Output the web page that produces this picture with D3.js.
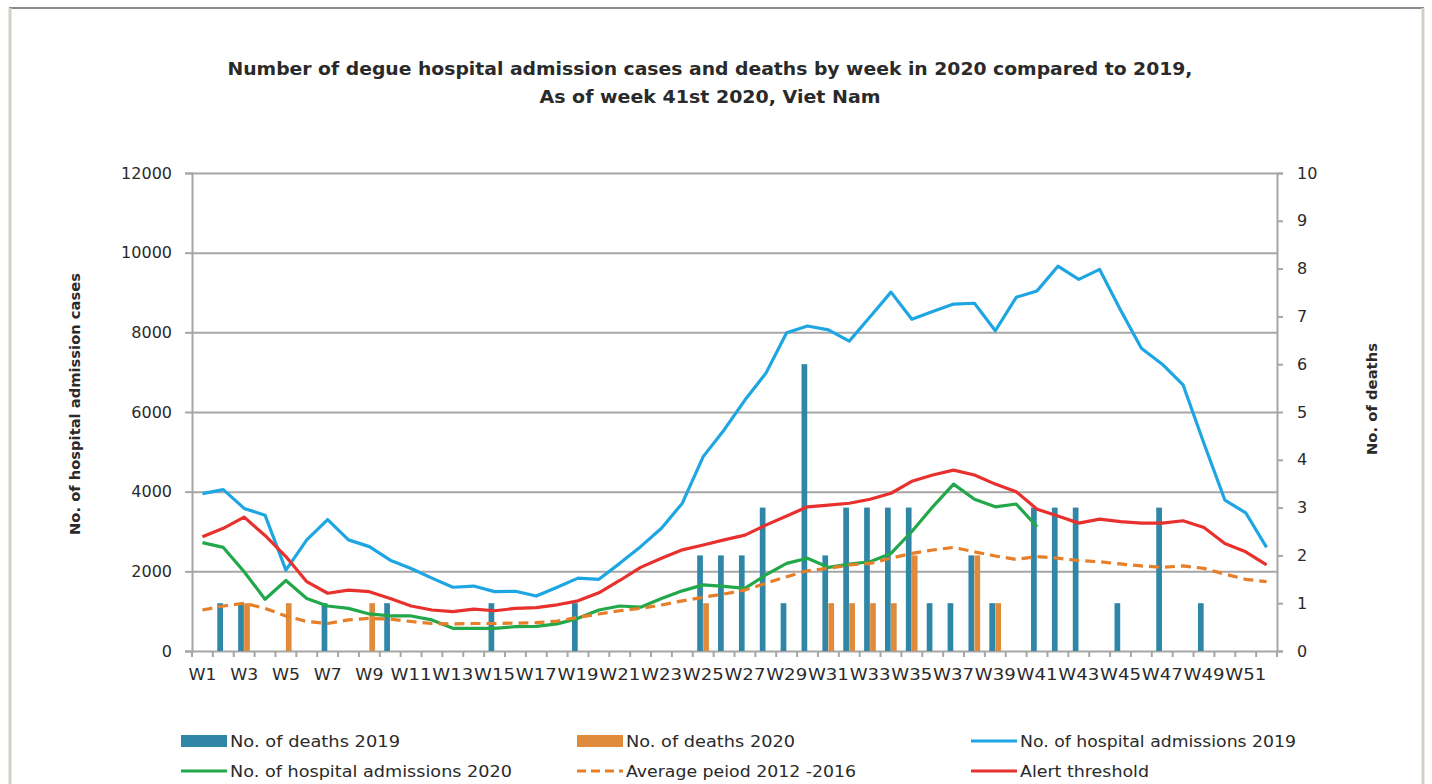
<!DOCTYPE html>
<html>
<head>
<meta charset="utf-8">
<script src="https://cdn.jsdelivr.net/npm/d3@7"></script>
<style>
  html, body { margin: 0; padding: 0; background: #ffffff; }
  svg { display: block; }
  text { font-family: "DejaVu Sans", "Open Sans", sans-serif; fill: #2a2a2a; }
</style>
</head>
<body>
<svg id="chart" width="1432" height="784"></svg>
<script>
// ---------------- data ----------------
const weeks = ["W1","W2","W3","W4","W5","W6","W7","W8","W9","W10","W11","W12","W13","W14","W15","W16","W17","W18","W19","W20",
  "W21","W22","W23","W24","W25","W26","W27","W28","W29","W30","W31","W32","W33","W34","W35","W36","W37","W38","W39","W40",
  "W41","W42","W43","W44","W45","W46","W47","W48","W49","W50","W51","W52"];

const deaths2019 = [0,1,1,0,0,0,1,0,0,1, 0,0,0,0,1,0,0,0,1,0, 0,0,0,0,2,2,2,3,1,6, 2,3,3,3,3,1,1,2,1,0, 3,3,3,0,1,0,3,0,1,0, 0,0];
const deaths2020 = [0,0,1,0,1,0,0,0,1,0, 0,0,0,0,0,0,0,0,0,0, 0,0,0,0,1,0,0,0,0,0, 1,1,1,1,2,0,0,2,1,0, 0];

const admissions2019 = [3950,4050,3580,3410,2030,2790,3300,2790,2620,2280, 2070,1830,1600,1630,1490,1500,1380,1600,1830,1800,
  2200,2620,3080,3710,4880,5550,6300,6970,7990,8160, 8060,7780,8390,9010,8330,8520,8710,8730,8040,8880,
  9040,9660,9330,9580,8560,7600,7200,6680,5210,3790, 3470,2600];
const admissions2020 = [2720,2600,1990,1300,1770,1320,1130,1070,930,880, 880,780,570,570,570,610,620,680,820,1030,
  1130,1100,1320,1510,1660,1620,1570,1910,2200,2330, 2100,2180,2240,2450,3000,3620,4190,3810,3620,3690, 3120];
const average2012_2016 = [1030,1130,1200,1070,880,740,690,780,820,800, 740,690,680,690,690,700,710,750,845,930,
  1010,1070,1155,1260,1350,1430,1530,1700,1865,2015, 2075,2160,2200,2330,2450,2535,2600,2490,2385,2300,
  2370,2330,2270,2240,2185,2135,2100,2135,2075,1930, 1800,1740];
const alertThreshold = [2870,3080,3360,2900,2370,1740,1450,1530,1490,1320, 1130,1030,990,1050,1010,1070,1090,1160,1260,1460,
  1770,2100,2330,2540,2660,2790,2910,3160,3390,3620, 3660,3710,3810,3960,4260,4420,4540,4420,4190,4000,
  3560,3390,3210,3310,3250,3210,3210,3270,3100,2700, 2490,2160];

const leftTicks = [0,2000,4000,6000,8000,10000,12000];
const rightTicks = [0,1,2,3,4,5,6,7,8,9,10];
const xLabels = weeks.filter((d,i) => i % 2 === 0);

const titleLines = ["Number of degue hospital admission cases and deaths by week in 2020 compared to 2019,",
                    "As of week 41st 2020, Viet Nam"];
const leftTitle = "No. of hospital admission cases";
const rightTitle = "No. of deaths";

const legendItems = [
  {label:"No. of deaths 2019", type:"bar", color:"#2f86a6"},
  {label:"No. of deaths 2020", type:"bar", color:"#e08a3c"},
  {label:"No. of hospital admissions 2019", type:"line", color:"#1ea6e3"},
  {label:"No. of hospital admissions 2020", type:"line", color:"#22a84a"},
  {label:"Average peiod 2012 -2016", type:"dash", color:"#e67e2a"},
  {label:"Alert threshold", type:"line", color:"#e8312e"}
];

// ---------------- layout ----------------
const svg = d3.select("#chart");
const L = 192, R = 1277, T = 173, B = 651;

const x = d3.scaleBand().domain(weeks).range([L, R]).padding(0);
const x1 = d3.scaleBand().domain(["2019","2020"]).range([-6, 6]).padding(0);
const yL = d3.scaleLinear().domain([0, 12000]).range([B, T]);
const yR = d3.scaleLinear().domain([0, 10]).range([B, T]);

// outer frame
svg.append("rect").attr("x",0).attr("y",0).attr("width",1432).attr("height",784).attr("fill","#ffffff");
svg.append("line").attr("x1",9).attr("x2",1424).attr("y1",8).attr("y2",8).attr("stroke","#8c8c8c").attr("stroke-width",2);
svg.append("line").attr("x1",10).attr("x2",10).attr("y1",8).attr("y2",784).attr("stroke","#d2d0c6").attr("stroke-width",3);
svg.append("line").attr("x1",1423).attr("x2",1423).attr("y1",8).attr("y2",784).attr("stroke","#d2d0c6").attr("stroke-width",3);

// gridlines
svg.append("g").attr("transform",`translate(${L},0)`)
  .call(d3.axisLeft(yL).tickValues(leftTicks.slice(1)).tickSize(-(R-L)).tickFormat(""))
  .call(g => g.select(".domain").remove())
  .call(g => g.selectAll("line").attr("stroke","#a6a6a6").attr("stroke-width",2));

// left axis
svg.append("g").attr("transform",`translate(${L},0)`)
  .call(d3.axisLeft(yL).tickValues(leftTicks).tickSize(7).tickPadding(13).tickFormat(d3.format("d")))
  .call(g => g.select(".domain").attr("stroke","#a6a6a6").attr("stroke-width",2))
  .call(g => g.selectAll("line").attr("stroke","#a6a6a6").attr("stroke-width",2))
  .call(g => g.selectAll("text").style("font-size","16px").attr("fill","#2a2a2a"));

// right axis
svg.append("g").attr("transform",`translate(${R},0)`)
  .call(d3.axisRight(yR).tickValues(rightTicks).tickSize(6).tickPadding(14).tickFormat(d3.format("d")))
  .call(g => g.select(".domain").attr("stroke","#a6a6a6").attr("stroke-width",2))
  .call(g => g.selectAll("line").attr("stroke","#a6a6a6").attr("stroke-width",2))
  .call(g => g.selectAll("text").style("font-size","16px").attr("fill","#2a2a2a"));

// bottom axis
const xAxisG = svg.append("g").attr("transform",`translate(0,${B})`);
xAxisG.call(d3.axisBottom(x).tickSize(0).tickPadding(18).tickFormat(d => xLabels.includes(d) ? d : ""))
  .call(g => g.select(".domain").attr("stroke","#a6a6a6").attr("stroke-width",2))
  .call(g => g.selectAll("text").style("font-size","16px").attr("fill","#2a2a2a")
    .each(function(d) { if (xLabels.includes(d)) d3.select(this).attr("textLength", d.length === 2 ? 28 : 41).attr("lengthAdjust","spacingAndGlyphs"); }));
xAxisG.selectAll(".btick").data(weeks.concat(["end"])).join("line").attr("class","btick")
  .attr("x1", d => d === "end" ? R : x(d)).attr("x2", d => d === "end" ? R : x(d))
  .attr("y1",0).attr("y2",6).attr("stroke","#a6a6a6").attr("stroke-width",2);

// bars
const barW = x1.bandwidth() - 0.3;
svg.append("g").selectAll("rect.d19").data(weeks.map((w,i)=>({w, v:deaths2019[i]})).filter(d=>d.v>0))
  .join("rect").attr("class","d19")
  .attr("x", d => x(d.w) + x.bandwidth()/2 + x1("2019")).attr("width", barW)
  .attr("y", d => yR(d.v)).attr("height", d => yR(0) - yR(d.v)).attr("fill","#2f86a6");
svg.append("g").selectAll("rect.d20").data(deaths2020.map((v,i)=>({w:weeks[i], v})).filter(d=>d.v>0))
  .join("rect").attr("class","d20")
  .attr("x", d => x(d.w) + x.bandwidth()/2 + x1("2020")).attr("width", barW)
  .attr("y", d => yR(d.v)).attr("height", d => yR(0) - yR(d.v)).attr("fill","#e08a3c");

// lines
const line = d3.line().x((d,i) => x(weeks[i]) + x.bandwidth()/2).y(d => yL(d));
function drawLine(data, color, dash) {
  svg.append("path").datum(data).attr("d", line).attr("fill","none")
    .attr("stroke", color).attr("stroke-width", 3.2).attr("stroke-linejoin","round")
    .attr("stroke-dasharray", dash || null);
}
drawLine(admissions2019, "#1ea6e3");
drawLine(admissions2020, "#22a84a");
drawLine(average2012_2016, "#e67e2a", "10,6");
drawLine(alertThreshold, "#e8312e");

// title
svg.append("text").attr("x",710).attr("y",75).attr("text-anchor","middle")
  .style("font-size","17px").style("font-weight","bold").attr("fill","#111")
  .attr("textLength",965).attr("lengthAdjust","spacingAndGlyphs").text(titleLines[0]);
svg.append("text").attr("x",710).attr("y",103).attr("text-anchor","middle")
  .style("font-size","17px").style("font-weight","bold").attr("fill","#111")
  .attr("textLength",341).attr("lengthAdjust","spacingAndGlyphs").text(titleLines[1]);

// axis titles
svg.append("text").attr("transform","translate(80,404) rotate(-90)").attr("text-anchor","middle")
  .style("font-size","14px").style("font-weight","bold").attr("fill","#1a1a1a")
  .attr("textLength",262).attr("lengthAdjust","spacingAndGlyphs").text(leftTitle);
svg.append("text").attr("transform","translate(1377,399) rotate(-90)").attr("text-anchor","middle")
  .style("font-size","14px").style("font-weight","bold").attr("fill","#1a1a1a")
  .attr("textLength",112).attr("lengthAdjust","spacingAndGlyphs").text(rightTitle);

// legend
const legX = [181, 577, 971];
const legY = [741, 771];
const legTextW = [170, 169, 276, 282, 230, 129];
const lg = svg.append("g");
legendItems.forEach((d,i) => {
  const cx = legX[i % 3], cy = legY[Math.floor(i/3)];
  if (d.type === "bar") {
    lg.append("rect").attr("x",cx).attr("y",cy-6).attr("width",46).attr("height",12).attr("fill",d.color);
  } else {
    lg.append("line").attr("x1",cx).attr("x2",cx+46).attr("y1",cy).attr("y2",cy)
      .attr("stroke",d.color).attr("stroke-width",3.2).attr("stroke-dasharray", d.type==="dash" ? "9,5" : null);
  }
  lg.append("text").attr("x",cx+49).attr("y",cy+6).style("font-size","15px").attr("fill","#1a1a1a")
    .attr("textLength",legTextW[i]).attr("lengthAdjust","spacingAndGlyphs").text(d.label);
});
</script>
</body>
</html>
